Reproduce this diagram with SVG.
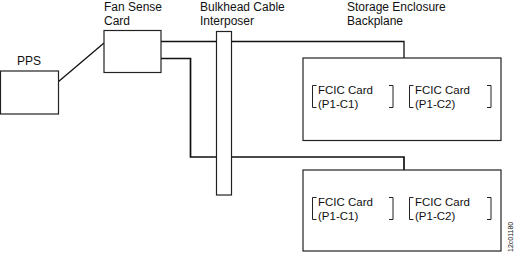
<svg xmlns="http://www.w3.org/2000/svg" width="517" height="254" viewBox="0 0 517 254">
<style>
.box{fill:#fff;stroke:#222;stroke-width:1.2}
.lbl{font-family:"Liberation Sans",Arial,sans-serif;font-size:12px;fill:#111}
.card{font-family:"Liberation Sans",Arial,sans-serif;font-size:11.5px;fill:#111}
.br{fill:none;stroke:#222;stroke-width:1}
.wire{fill:none;stroke:#111;stroke-width:1.3}
.wire2{fill:none;stroke:#111;stroke-width:1.7}
.id{font-family:"Liberation Sans",Arial,sans-serif;font-size:7px;fill:#111}
</style>
<g id="connectors">
<line class="wire" x1="58" y1="82" x2="104" y2="43"/>
<polyline class="wire" points="161,41.5 404,41.5 404,58"/>
<polyline class="wire2" points="161,58.5 190.5,58.5 190.5,157 404,157 404,170"/>
</g>
<g id="pps">
<rect class="box" x="0.5" y="71" width="58" height="43"/>
<text class="lbl" x="17" y="65">PPS</text>
</g>
<g id="fan">
<rect class="box" x="104" y="30.5" width="57" height="42"/>
<text class="lbl" x="104" y="11">Fan Sense</text>
<text class="lbl" x="104" y="25">Card</text>
</g>
<g id="interposer">
<rect class="box" x="216.5" y="31.5" width="15" height="163.5"/>
<text class="lbl" x="200" y="11">Bulkhead Cable</text>
<text class="lbl" x="200" y="25">Interposer</text>
</g>
<g id="backplane1">
<text class="lbl" x="347" y="11">Storage Enclosure</text>
<text class="lbl" x="347" y="25">Backplane</text>
<rect class="box" x="303" y="58" width="198" height="82.5"/>
<path class="br" d="M316.5,85.5H312.5V107.5H316.5M389,85.5H393V107.5H389M413.5,85.5H409.5V107.5H413.5M487,85.5H491V107.5H487"/>
<text class="card" x="318" y="94">FCIC Card</text>
<text class="card" x="318" y="107.5">(P1-C1)</text>
<text class="card" x="415" y="94">FCIC Card</text>
<text class="card" x="415" y="107.5">(P1-C2)</text>
</g>
<g id="backplane2">
<rect class="box" x="303" y="170" width="198" height="81"/>
<path class="br" d="M316.5,197.5H312.5V219.5H316.5M389,197.5H393V219.5H389M413.5,197.5H409.5V219.5H413.5M487,197.5H491V219.5H487"/>
<text class="card" x="318" y="206">FCIC Card</text>
<text class="card" x="318" y="219.5">(P1-C1)</text>
<text class="card" x="415" y="206">FCIC Card</text>
<text class="card" x="415" y="219.5">(P1-C2)</text>
</g>
<text class="id" transform="translate(513,252) rotate(-90)">12c01180</text>
</svg>
